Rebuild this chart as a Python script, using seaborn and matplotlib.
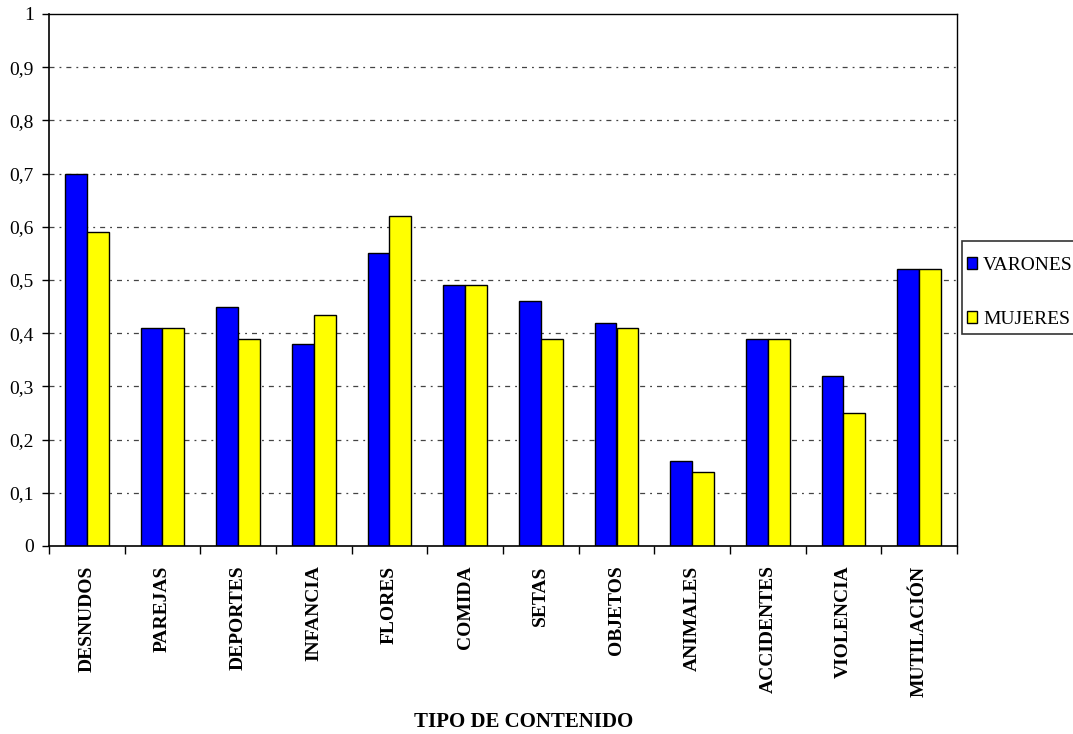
import matplotlib
matplotlib.use("Agg")
import matplotlib.pyplot as plt
import seaborn as sns
import pandas as pd
from matplotlib.patches import Patch, Rectangle

categorias = ["DESNUDOS", "PAREJAS", "DEPORTES", "INFANCIA", "FLORES", "COMIDA",
              "SETAS", "OBJETOS", "ANIMALES", "ACCIDENTES", "VIOLENCIA", "MUTILACIÓN"]
varones = [0.70, 0.41, 0.45, 0.38, 0.55, 0.49, 0.46, 0.42, 0.16, 0.39, 0.32, 0.52]
mujeres = [0.59, 0.41, 0.39, 0.435, 0.62, 0.49, 0.39, 0.41, 0.14, 0.39, 0.25, 0.52]
series = ["VARONES", "MUJERES"]
colores = ["#0000FF", "#FFFF00"]
yticks = [0, 0.1, 0.2, 0.3, 0.4, 0.5, 0.6, 0.7, 0.8, 0.9, 1.0]
ytick_labels = ["0", "0,1", "0,2", "0,3", "0,4", "0,5", "0,6", "0,7", "0,8", "0,9", "1"]

df = pd.DataFrame({
    "categoria": categorias * 2,
    "valor": varones + mujeres,
    "serie": [series[0]] * len(categorias) + [series[1]] * len(categorias),
})

sns.set_style("white")
plt.rcParams["font.family"] = ["Liberation Serif", "DejaVu Serif"]
plt.rcParams["text.color"] = "black"
plt.rcParams["xtick.color"] = "black"
plt.rcParams["ytick.color"] = "black"

W, H = 1073, 734
fig = plt.figure(figsize=(W / 100, H / 100), dpi=100)
ax = fig.add_axes([49 / W, 1 - 546 / H, (957 - 49) / W, (546 - 14) / H])

sns.barplot(data=df, x="categoria", y="valor", hue="serie", palette=colores,
            edgecolor="black", linewidth=1.0, width=0.58, ax=ax, legend=False,
            saturation=1, errorbar=None)

ax.set_xlim(-0.5, len(categorias) - 0.5)
ax.set_ylim(0, 1)
ax.set_yticks(yticks)
ax.set_yticklabels(ytick_labels, fontsize=14)
ax.set_xticks(range(len(categorias)))
ax.set_xticklabels(categorias, rotation=90, fontsize=14, fontweight="bold",
                   va="top", ha="center")
ax.tick_params(axis="x", length=0, pad=14)
ax.tick_params(axis="y", length=5, width=1, direction="out", left=True, pad=6)
ax.set_xticks([i + 0.5 for i in range(-1, len(categorias))], minor=True)
ax.tick_params(axis="x", which="minor", length=6, width=1, direction="out", bottom=True)

for y in yticks[1:-1]:
    ax.axhline(y, color="#444444", linewidth=0.9, linestyle=(0, (4, 4, 1.5, 4)), zorder=0)

for s in ax.spines.values():
    s.set_visible(True)
    s.set_color("black")
    s.set_linewidth(1)
ax.spines["left"].set_linewidth(1.2)
ax.spines["bottom"].set_linewidth(1.2)

ax.set_xlabel("")
ax.set_ylabel("")
fig.text(524 / W, 1 - 722 / H, "TIPO DE CONTENIDO", ha="center", va="center",
         fontsize=15, fontweight="bold")

# legend frame
fig.patches.append(Rectangle((962 / W, 1 - 334 / H), (1090 - 962) / W, (334 - 241) / H,
                             transform=fig.transFigure, facecolor="white",
                             edgecolor="#333333", linewidth=1.2, zorder=1))
handles = [Patch(facecolor=c, edgecolor="black", linewidth=1) for c in colores]
leg = fig.legend(handles, series, loc="upper left", bbox_to_anchor=(967 / W, 1 - 257 / H),
                 bbox_transform=fig.transFigure, frameon=False,
                 fontsize=14, handlelength=0.52, handleheight=0.55,
                 handletextpad=0.3, labelspacing=1.88, borderpad=0, borderaxespad=0)
leg.set_zorder(2)

fig.savefig("out.png", dpi=100)
